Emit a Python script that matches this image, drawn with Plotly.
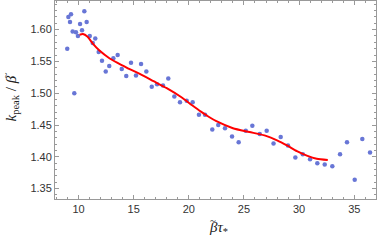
import plotly.graph_objects as go

# scatter data
x_pts = [8.98, 9.08, 9.32, 9.23, 9.47, 9.62, 9.77, 9.95, 10.14, 10.32, 10.53, 10.74,
         11.02, 11.29, 11.52, 11.83, 12.13, 12.47, 12.79, 13.16, 13.55, 13.92, 14.33,
         14.76, 15.21, 15.67, 16.15, 16.64, 17.12, 17.66, 18.14, 18.69, 19.20, 19.81,
         20.35, 20.92, 21.47, 22.13, 22.67, 23.28, 23.92, 24.52, 25.16, 25.76, 26.43,
         27.06, 27.68, 28.33, 28.99, 29.66, 30.33, 30.99, 31.65, 32.32, 33.01, 33.71,
         34.34, 35.04, 35.73, 36.43]
y_pts = [1.570, 1.620, 1.624, 1.612, 1.597, 1.500, 1.596, 1.590, 1.609, 1.599, 1.629, 1.612,
         1.590, 1.579, 1.586, 1.565, 1.551, 1.534, 1.543, 1.555, 1.560, 1.538, 1.527,
         1.548, 1.528, 1.546, 1.534, 1.510, 1.514, 1.512, 1.523, 1.495, 1.486, 1.488,
         1.486, 1.466, 1.466, 1.443, 1.450, 1.445, 1.432, 1.423, 1.441, 1.449, 1.436,
         1.441, 1.421, 1.431, 1.418, 1.399, 1.404, 1.396, 1.390, 1.388, 1.385, 1.404,
         1.423, 1.364, 1.428, 1.407]

# fitted curve
x_fit = [10.1, 10.4, 10.8, 11.3, 11.9, 12.8, 13.5, 14.4, 15.6, 16.8, 18.0, 19.3, 20.3,
         21.1, 21.8, 22.5, 24.0, 25.5, 27.0, 28.0, 28.9, 29.8, 30.7, 31.6, 32.6]
y_fit = [1.592, 1.593, 1.589, 1.578, 1.567, 1.555, 1.548, 1.540, 1.530, 1.519, 1.508,
         1.494, 1.481, 1.471, 1.463, 1.456, 1.445, 1.439, 1.433, 1.426, 1.418, 1.409,
         1.402, 1.397, 1.395]

x_ticks = [10, 15, 20, 25, 30, 35]
y_ticks = [1.35, 1.40, 1.45, 1.50, 1.55, 1.60]

W, H = 377, 244
ML, MR, MT, MB = 55, 1, 1, 45
PW, PH = W - ML - MR, H - MT - MB


def px(x):
    return (x - ML) / PW


def py(y):
    return (H - MB - y) / PH


fig = go.Figure()
fig.add_trace(go.Scatter(x=x_pts, y=y_pts, mode="markers",
                         marker=dict(color="#6876d6", size=4.5, line=dict(width=0)),
                         showlegend=False))
fig.add_trace(go.Scatter(x=x_fit, y=y_fit, mode="lines",
                         line=dict(color="#ff0000", width=2, shape="spline", smoothing=0.6),
                         showlegend=False))

axis_common = dict(showline=True, linecolor="#999999", linewidth=1, mirror="ticks",
                   ticks="inside", ticklen=4, tickcolor="#999999", tickwidth=1, showgrid=False,
                   zeroline=False, automargin=False,
                   tickfont=dict(family="Liberation Sans, Arial", size=11, color="#333333"))

fig.update_xaxes(range=[7.87, 36.97], tickvals=x_ticks, ticktext=[str(v) for v in x_ticks],
                 minor=dict(ticks="inside", ticklen=2, dtick=1, tick0=0, tickcolor="#999999"),
                 **axis_common)
fig.update_yaxes(range=[1.3337, 1.645], tickvals=y_ticks, ticktext=[f"{v:.2f}" for v in y_ticks],
                 minor=dict(ticks="inside", ticklen=2, dtick=0.01, tick0=0, tickcolor="#999999"),
                 **axis_common)

title_font = dict(family="Liberation Serif, DejaVu Serif", size=15, color="#222222")
tilde_font = dict(family="Liberation Serif, DejaVu Serif", size=11, color="#222222")

# x title
fig.add_annotation(text="<i>βτ</i><sub>*</sub>", xref="paper", yref="paper",
                   x=px(207), y=py(228), xanchor="left", yanchor="middle", showarrow=False,
                   font=title_font)
fig.add_annotation(text="~", xref="paper", yref="paper",
                   x=px(213), y=py(219.5), xanchor="center", yanchor="middle", showarrow=False,
                   font=tilde_font)
# y title
fig.add_annotation(text="<i>k</i><sub>peak</sub> / <i>β</i>", xref="paper", yref="paper",
                   x=px(11.5), y=py(99), xanchor="center", yanchor="middle", showarrow=False,
                   textangle=-90, font=title_font)
fig.add_annotation(text="~", xref="paper", yref="paper",
                   x=px(4.5), y=py(76), xanchor="center", yanchor="middle", showarrow=False,
                   textangle=-90, font=tilde_font, height=8, width=10, borderpad=0)

fig.update_layout(width=W, height=H, margin=dict(l=ML, r=MR, t=MT, b=MB),
                  plot_bgcolor="white", paper_bgcolor="white")

fig.write_html("out.html", config={"displayModeBar": False},
               post_script="document.body.style.margin='0';")
